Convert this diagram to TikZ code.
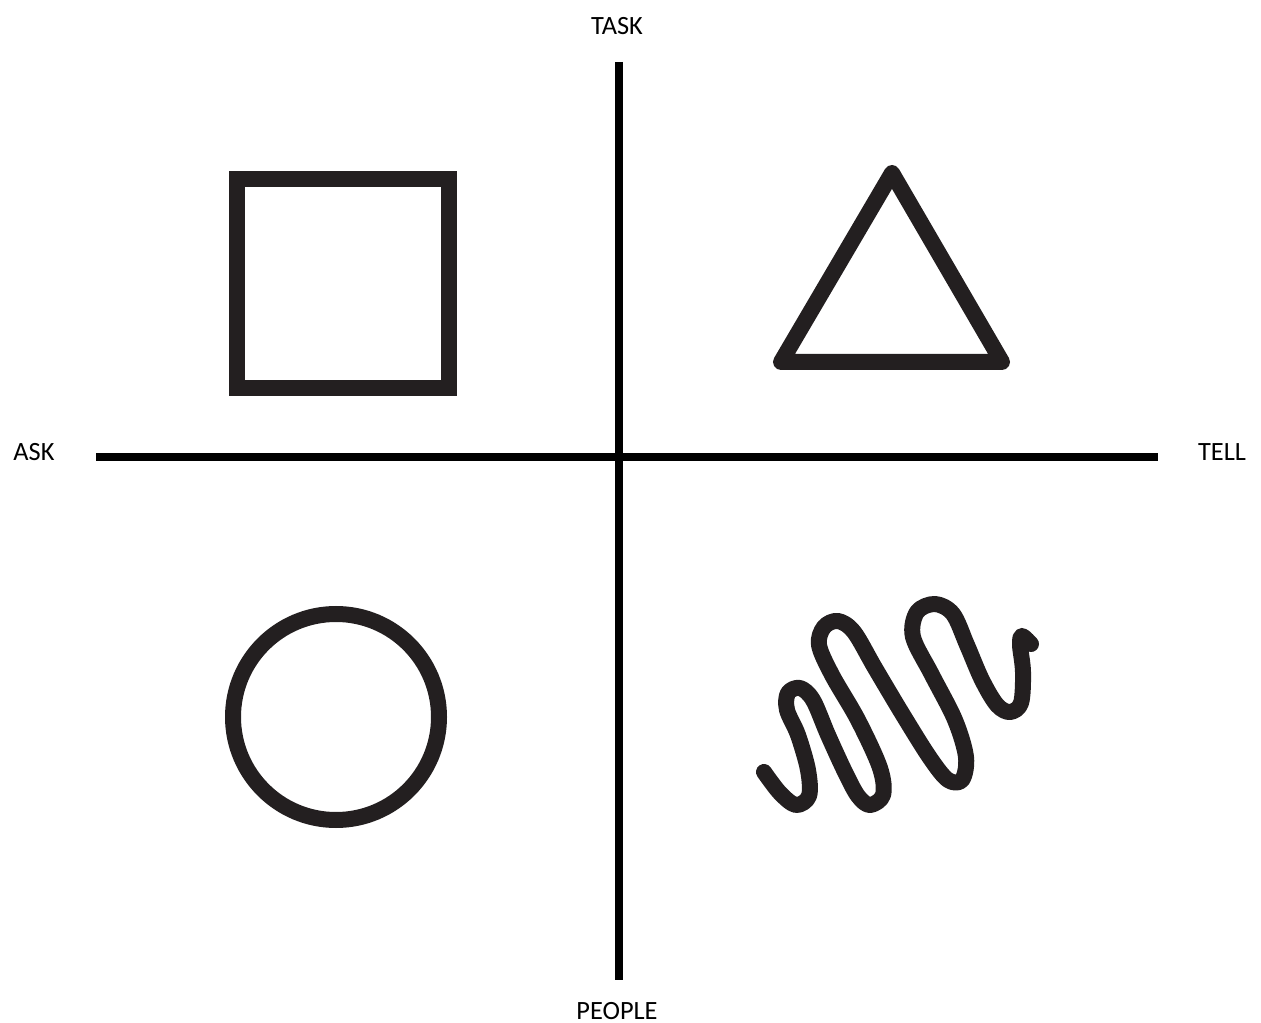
\documentclass[tikz,border=0pt]{standalone}
\usepackage{fontspec}
\setmainfont{Carlito}
\definecolor{inkblack}{RGB}{35, 31, 32}

\begin{document}
\begin{tikzpicture}[x=0.02cm, y=-0.02cm,
    axis/.style={line width=0.16cm},
    outline/.style={inkblack, line width=0.32cm},
    lbl/.style={font=\fontsize{15}{18}\selectfont, inner sep=0pt}]
        \useasboundingbox (0,0) rectangle (1261,1023);
        % the two axes
        \coordinate (top) at (619,62);
        \coordinate (bottom) at (619,980);
        \coordinate (left) at (96,457);
        \coordinate (right) at (1158,457);
        \draw[axis] (top) -- (bottom);
        \draw[axis] (left) -- (right);
        \node[lbl] (task) at (617,26) {TASK};
        \node[lbl] (people) at (617,1011) {PEOPLE};
        \node[lbl] (ask) at (34,452) {ASK};
        \node[lbl] (tell) at (1222,452) {TELL};
        % square, upper left
        \draw[outline] (237,179) rectangle (449,388);
        % triangle, upper right
        \draw[outline, line join=round] (892,173) -- (1002,362) -- (781,362) -- cycle;
        % circle, lower left
        \draw[outline] (336,717) circle (103);
        % squiggle, lower right
        \draw[outline, line cap=round, line join=round] plot[smooth, tension=0.55] coordinates {
            (764,772) (780,793) (796,805) (809,796) (808,770) (798,735) (787,710)
            (788,693) (800,688) (813,700) (828,735) (845,772) (858,796) (870,805)
            (883,795) (880,768) (858,720) (832,675) (819,645) (824,627) (838,621)
            (854,632) (875,668) (903,715) (930,758) (948,780) (962,780) (966,757)
            (955,720) (932,675) (913,637) (917,612) (935,604) (953,614) (967,645)
            (982,680) (997,705) (1010,712) (1021,703) (1023,672) (1020,645)
            (1022,636) (1031,644)};
      \end{tikzpicture}
\end{document}
